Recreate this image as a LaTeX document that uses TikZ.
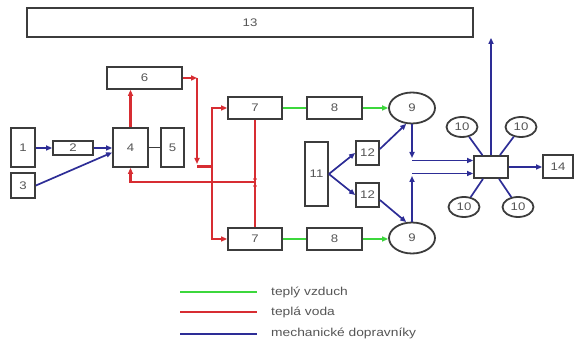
\documentclass[tikz,border=0pt]{standalone}
\usepackage{fontspec}
\setmainfont{Liberation Sans}[FakeStretch=1.2]
\usetikzlibrary{shapes.geometric,arrows.meta,calc}
\definecolor{boxc}{RGB}{60,60,60}
\definecolor{txtc}{RGB}{85,85,85}
\definecolor{airc}{RGB}{60,215,60}
\definecolor{waterc}{RGB}{215,45,50}
\definecolor{mechc}{RGB}{45,45,150}
\tikzset{
  box/.style={draw=boxc, line width=1.8pt, fill=white, inner sep=0pt, text=txtc, font=\fontsize{11}{12}\selectfont},
  oval/.style={box, ellipse},
  air/.style={draw=airc, line width=2.2pt},
  water/.style={draw=waterc, line width=2.2pt},
  mech/.style={draw=mechc, line width=1.7pt},
  plain/.style={draw=boxc, line width=1.7pt},
  tip/.style={-{Triangle[length=6pt,width=5pt]}},
  legtext/.style={anchor=west, inner sep=0pt, text=txtc, font=\fontsize{11.5}{12}\selectfont},
  jdot/.style={fill=waterc}
}
\begin{document}
\begin{tikzpicture}[x=1pt,y=-1pt]
\useasboundingbox (0,0) rectangle (580,347);
% nodes
\node[box, minimum width=446pt, minimum height=29pt] (n13) at (250,22.5) {13};
\node[box, minimum width=24pt, minimum height=39pt] (n1) at (23,147.5) {1};
\node[box, minimum width=40pt, minimum height=14pt] (n2) at (73,148) {2};
\node[box, minimum width=24pt, minimum height=25pt] (n3) at (23,185.5) {3};
\node[box, minimum width=35pt, minimum height=39pt] (n4) at (130.5,147.5) {4};
\node[box, minimum width=23pt, minimum height=39pt] (n5) at (172.5,147.5) {5};
\node[box, minimum width=75pt, minimum height=22pt] (n6) at (144.5,78) {6};
\node[box, minimum width=54pt, minimum height=22pt] (n7a) at (255,108) {7};
\node[box, minimum width=54pt, minimum height=22pt] (n7b) at (255,239) {7};
\node[box, minimum width=55pt, minimum height=22pt] (n8a) at (334.5,108) {8};
\node[box, minimum width=55pt, minimum height=22pt] (n8b) at (334.5,239) {8};
\node[oval, minimum width=46pt, minimum height=31pt] (n9a) at (412,108) {9};
\node[oval, minimum width=46pt, minimum height=31pt] (n9b) at (412,238) {9};
\node[box, minimum width=23pt, minimum height=64pt] (n11) at (316.5,174) {11};
\node[box, minimum width=23pt, minimum height=24pt] (n12a) at (367.5,153) {12};
\node[box, minimum width=23pt, minimum height=24pt] (n12b) at (367.5,195) {12};
\node[box, minimum width=34pt, minimum height=22pt] (mix) at (491,167) {};
\node[box, minimum width=30pt, minimum height=23pt] (n14) at (558,166.5) {14};
\node[oval, minimum width=31pt, minimum height=20pt] (t1) at (462,127) {10};
\node[oval, minimum width=31pt, minimum height=20pt] (t2) at (521,127) {10};
\node[oval, minimum width=31pt, minimum height=20pt] (t3) at (464,207) {10};
\node[oval, minimum width=31pt, minimum height=20pt] (t4) at (518,207) {10};
% mechanical conveyors
\draw[mech, tip] (n1.east |- n2.west) -- (n2.west);
\draw[mech, tip] (n2.east) -- (n4.west |- n2.east);
\draw[mech, tip] (n3.east) -- ($(n4.west)+(0,5)$);
\draw[mech, tip] (n11.east) -- (n12a.west);
\draw[mech, tip] (n11.east) -- (n12b.west);
\draw[mech, tip] ($(n12a.east)+(0,-4)$) -- (n9a.250);
\draw[mech, tip] ($(n12b.east)+(0,5)$) -- (n9b.110);
\coordinate (b9a) at (412,158);
\coordinate (h9a) at (412,160.5);
\coordinate (b9b) at (412,176);
\coordinate (h9b) at (412,173.5);
\draw[mech, tip] (n9a.south) -- (b9a);
\draw[mech, tip] (h9a) -- (mix.west |- h9a);
\draw[mech, tip] (n9b.north) -- (b9b);
\draw[mech, tip] (h9b) -- (mix.west |- h9b);
\draw[mech, tip] (mix.east) -- (n14.west |- mix.east);
\draw[mech, tip] (mix.north) -- (mix.north |- n13.south);
\draw[mech] (t1) -- (mix);
\draw[mech] (t2) -- (mix);
\draw[mech] (t3) -- (mix);
\draw[mech] (t4) -- (mix);
% plain link 4-5
\draw[plain] (n4.east) -- (n5.west);
% warm air
\draw[air] (n7a.east) -- (n8a.west);
\draw[air, tip] (n8a.east) -- (n9a.west);
\draw[air] (n7b.east) -- (n8b.west);
\draw[air, tip] (n8b.east) -- (n9b.west |- n8b.east);
% warm water
\draw[water, tip] (n4.north) -- (n4.north |- n6.south);
\coordinate (r6c) at (197,78);
\coordinate (r6d) at (197,164);
\coordinate (r6e) at (197,166.5);
\coordinate (rsplit) at (212,166.5);
\coordinate (rret) at (255,182);
\draw[water, tip] (n6.east) -- (r6c);
\draw[water, tip] (r6c) -- (r6d);
\draw[water] (r6e) -- (rsplit);
\draw[water, tip] (rsplit) |- (n7a.west);
\draw[water, tip] (rsplit) |- (n7b.west);
\draw[water] (n7a.south) -- (n7b.north);
\draw[water, tip] (rret) -| (n4.south);
\fill[jdot] (212,182) circle (1.9pt);
\fill[jdot] (255,179) circle (1.9pt);
\fill[jdot] (255,186) circle (1.9pt);
% legend
\coordinate (la1) at (180,292); \coordinate (lb1) at (257,292);
\coordinate (la2) at (180,312); \coordinate (lb2) at (257,312);
\coordinate (la3) at (180,334); \coordinate (lb3) at (257,334);
\draw[air] (la1) -- (lb1);
\draw[water] (la2) -- (lb2);
\draw[mech] (la3) -- (lb3);
\node[legtext] (lt1) at (271,292) {teplý vzduch};
\node[legtext] (lt2) at (271,312) {teplá voda};
\node[legtext] (lt3) at (271,333) {mechanické dopravníky};
\end{tikzpicture}
\end{document}
